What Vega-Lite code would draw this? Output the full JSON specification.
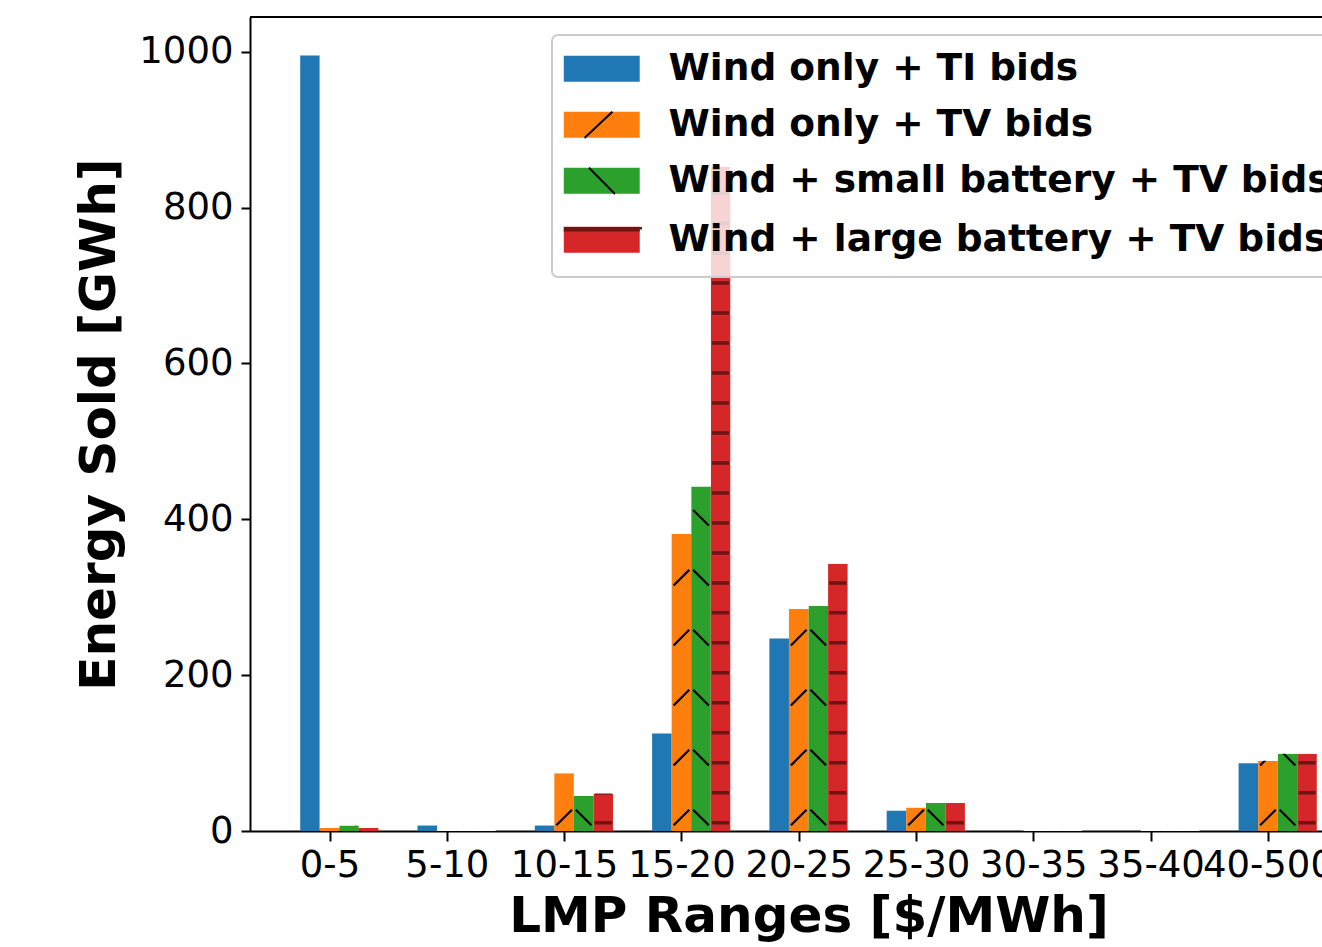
{
  "$schema": "https://vega.github.io/schema/vega-lite/v6.json",
  "autosize": {"type": "none"},
  "padding": {"left": 250, "top": 17, "right": 0, "bottom": 116},
  "width": 1072,
  "height": 814,
  "background": "white",
  "config": {
    "view": {"stroke": null},
    "font": "DejaVu Sans",
    "axis": {
      "labelFont": "DejaVu Sans",
      "labelColor": "black",
      "titleFont": "DejaVu Sans",
      "titleColor": "black",
      "titleFontWeight": "bold",
      "titleFontSize": 50,
      "labelFontSize": 37,
      "tickColor": "black",
      "tickWidth": 2,
      "domainColor": "black",
      "domainWidth": 2,
      "grid": false,
      "zindex": 1
    }
  },
  "data": {
    "values": [
      {"range": "0-5", "series": "Wind only + TI bids", "value": 995},
      {"range": "0-5", "series": "Wind only + TV bids", "value": 4},
      {"range": "0-5", "series": "Wind + small battery + TV bids", "value": 7},
      {"range": "0-5", "series": "Wind + large battery + TV bids", "value": 4},
      {"range": "5-10", "series": "Wind only + TI bids", "value": 7},
      {"range": "5-10", "series": "Wind only + TV bids", "value": 0},
      {"range": "5-10", "series": "Wind + small battery + TV bids", "value": 0},
      {"range": "5-10", "series": "Wind + large battery + TV bids", "value": 0},
      {"range": "10-15", "series": "Wind only + TI bids", "value": 7},
      {"range": "10-15", "series": "Wind only + TV bids", "value": 74},
      {"range": "10-15", "series": "Wind + small battery + TV bids", "value": 45},
      {"range": "10-15", "series": "Wind + large battery + TV bids", "value": 48},
      {"range": "15-20", "series": "Wind only + TI bids", "value": 125},
      {"range": "15-20", "series": "Wind only + TV bids", "value": 381},
      {"range": "15-20", "series": "Wind + small battery + TV bids", "value": 442},
      {"range": "15-20", "series": "Wind + large battery + TV bids", "value": 852},
      {"range": "20-25", "series": "Wind only + TI bids", "value": 247},
      {"range": "20-25", "series": "Wind only + TV bids", "value": 285},
      {"range": "20-25", "series": "Wind + small battery + TV bids", "value": 289},
      {"range": "20-25", "series": "Wind + large battery + TV bids", "value": 343},
      {"range": "25-30", "series": "Wind only + TI bids", "value": 26},
      {"range": "25-30", "series": "Wind only + TV bids", "value": 30},
      {"range": "25-30", "series": "Wind + small battery + TV bids", "value": 36},
      {"range": "25-30", "series": "Wind + large battery + TV bids", "value": 36},
      {"range": "30-35", "series": "Wind only + TI bids", "value": 0},
      {"range": "30-35", "series": "Wind only + TV bids", "value": 0},
      {"range": "30-35", "series": "Wind + small battery + TV bids", "value": 0},
      {"range": "30-35", "series": "Wind + large battery + TV bids", "value": 0},
      {"range": "35-40", "series": "Wind only + TI bids", "value": 0},
      {"range": "35-40", "series": "Wind only + TV bids", "value": 0},
      {"range": "35-40", "series": "Wind + small battery + TV bids", "value": 0},
      {"range": "35-40", "series": "Wind + large battery + TV bids", "value": 0},
      {"range": "40-500", "series": "Wind only + TI bids", "value": 87},
      {"range": "40-500", "series": "Wind only + TV bids", "value": 90},
      {"range": "40-500", "series": "Wind + small battery + TV bids", "value": 99},
      {"range": "40-500", "series": "Wind + large battery + TV bids", "value": 99}
    ]
  },
  "layer": [
    {
      "encoding": {
        "x": {
          "field": "range",
          "type": "nominal",
          "sort": ["0-5", "5-10", "10-15", "15-20", "20-25", "25-30", "30-35", "35-40", "40-500"],
          "scale": {
            "domain": ["0-5", "5-10", "10-15", "15-20", "20-25", "25-30", "30-35", "35-40", "40-500"],
            "range": [0, 1117],
            "paddingInner": 0,
            "paddingOuter": 0.2613
          },
          "axis": {
            "title": "LMP Ranges [$/MWh]",
            "labelAngle": 0,
            "labelOverlap": false,
            "tickOffset": -9.78,
            "tickSize": 10,
            "labelPadding": 6,
            "titlePadding": 8,
            "titleX": 558.5
          }
        },
        "xOffset": {
          "field": "series",
          "type": "nominal",
          "scale": {
            "domain": ["Wind only + TI bids", "Wind only + TV bids", "Wind + small battery + TV bids", "Wind + large battery + TV bids"],
            "paddingInner": 0,
            "paddingOuter": 1
          }
        }
      },
      "layer": [
        {
          "mark": {"type": "bar", "clip": true},
          "encoding": {
            "y": {
              "field": "value",
              "type": "quantitative",
              "scale": {"domain": [0, 1044.5], "nice": false, "zero": true},
              "axis": {
                "title": "Energy Sold [GWh]",
                "values": [0, 200, 400, 600, 800, 1000],
                "format": "d",
                "tickSize": 9,
                "labelPadding": 8,
                "titlePadding": 14
              }
            },
            "color": {
              "field": "series",
              "type": "nominal",
              "scale": {
                "domain": ["Wind only + TI bids", "Wind only + TV bids", "Wind + small battery + TV bids", "Wind + large battery + TV bids"],
                "range": ["#1f77b4", "#ff7f0e", "#2ca02c", "#d62728"]
              },
              "legend": {
                "orient": "none",
                "legendX": 302,
                "legendY": 18,
                "title": null,
                "labelFont": "DejaVu Sans",
                "labelFontSize": 37.5,
                "labelFontWeight": "bold",
                "labelColor": "black",
                "labelLimit": 3000,
                "symbolType": "M-2.92,-1L2.92,-1L2.92,1L-2.92,1Z",
                "symbolSize": 676,
                "symbolStrokeWidth": 0,
                "symbolOpacity": 1,
                "symbolOffset": 16,
                "labelOffset": 48,
                "padding": 15,
                "rowPadding": 17,
                "fillColor": "rgba(255,255,255,0.8)",
                "strokeColor": "#cccccc",
                "cornerRadius": 6,
                "encode": {
                  "legend": {"update": {"strokeWidth": {"value": 2}}},
                  "symbols": {
                    "update": {
                      "shape": {"signal": "datum.value === 'Wind only + TV bids' ? 'M0.82,-1L-1.31,1L-2.92,1L-2.92,-1L2.92,-1L2.92,1L-1.31,1Z' : datum.value === 'Wind + small battery + TV bids' ? 'M-0.98,-1L1,1L2.92,1L2.92,-1L-2.92,-1L-2.92,1L1,1Z' : datum.value === 'Wind + large battery + TV bids' ? 'M-2.92,-0.8L2.92,-0.8L2.92,1L-2.92,1L-2.92,-1L2.92,-1L2.92,-0.8Z' : 'M-2.92,-1L2.92,-1L2.92,1L-2.92,1Z'"},
                      "stroke": {"signal": "datum.value === 'Wind + large battery + TV bids' ? '#6b1515' : 'black'"},
                      "strokeWidth": {"signal": "datum.value === 'Wind + large battery + TV bids' ? 4.5 : datum.value === 'Wind only + TI bids' ? 0 : 2"},
                      "strokeDash": {"signal": "datum.value === 'Wind only + TV bids' ? [38, 5000] : datum.value === 'Wind + small battery + TV bids' ? [36.6, 5000] : [76, 5000]"},
                      "opacity": {"value": 1}
                    }
                  }
                }
              }
            }
          }
        },
        {
          "transform": [{"filter": "datum.series === 'Wind only + TV bids'"}],
          "mark": {
            "type": "point",
            "clip": true,
            "filled": false,
            "opacity": 1,
            "stroke": "black",
            "strokeWidth": 2.2,
            "size": 382,
            "shape": "M-0.8,-0.58L0.8,-2.18M-0.8,-6.715L0.8,-8.315M-0.8,-12.85L0.8,-14.45M-0.8,-18.985L0.8,-20.585M-0.8,-25.12L0.8,-26.72M-0.8,-31.255L0.8,-32.855M-0.8,-37.39L0.8,-38.99M-0.8,-43.525L0.8,-45.125M-0.8,-49.66L0.8,-51.26"
          },
          "encoding": {"y": {"datum": 0, "type": "quantitative"}}
        },
        {
          "transform": [{"filter": "datum.series === 'Wind + small battery + TV bids'"}],
          "mark": {
            "type": "point",
            "clip": true,
            "filled": false,
            "opacity": 1,
            "stroke": "black",
            "strokeWidth": 2.2,
            "size": 382,
            "shape": "M-0.8,-2.18L0.8,-0.58M-0.8,-8.315L0.8,-6.715M-0.8,-14.45L0.8,-12.85M-0.8,-20.585L0.8,-18.985M-0.8,-26.72L0.8,-25.12M-0.8,-32.855L0.8,-31.255M-0.8,-38.99L0.8,-37.39M-0.8,-45.125L0.8,-43.525M-0.8,-51.26L0.8,-49.66"
          },
          "encoding": {"y": {"datum": 0, "type": "quantitative"}}
        },
        {
          "transform": [{"filter": "datum.series === 'Wind + large battery + TV bids'"}],
          "mark": {
            "type": "point",
            "clip": true,
            "filled": false,
            "opacity": 1,
            "stroke": "#6b1515",
            "strokeWidth": 3.5,
            "size": 382,
            "shape": "M-0.88,-0.849L0.88,-0.849M-0.88,-3.916L0.88,-3.916M-0.88,-6.984L0.88,-6.984M-0.88,-10.051L0.88,-10.051M-0.88,-13.119L0.88,-13.119M-0.88,-16.186L0.88,-16.186M-0.88,-19.254L0.88,-19.254M-0.88,-22.321L0.88,-22.321M-0.88,-25.389L0.88,-25.389M-0.88,-28.456L0.88,-28.456M-0.88,-31.524L0.88,-31.524M-0.88,-34.591L0.88,-34.591M-0.88,-37.659L0.88,-37.659M-0.88,-40.726L0.88,-40.726M-0.88,-43.794L0.88,-43.794M-0.88,-46.861L0.88,-46.861M-0.88,-49.929L0.88,-49.929M-0.88,-52.996L0.88,-52.996M-0.88,-56.064L0.88,-56.064M-0.88,-59.131L0.88,-59.131M-0.88,-62.199L0.88,-62.199M-0.88,-65.266L0.88,-65.266M-0.88,-68.334L0.88,-68.334"
          },
          "encoding": {"y": {"datum": 0, "type": "quantitative"}}
        },
        {
          "transform": [{"filter": "datum.series !== 'Wind only + TI bids'"}],
          "mark": {"type": "bar", "clip": true, "fill": "white"},
          "encoding": {
            "y": {"field": "value", "type": "quantitative"},
            "y2": {"datum": 1100}
          }
        }
      ]
    },
    {
      "mark": {"type": "rule", "stroke": "black", "strokeWidth": 2},
      "encoding": {"y": {"datum": 1044.5, "type": "quantitative"}}
    }
  ]
}
